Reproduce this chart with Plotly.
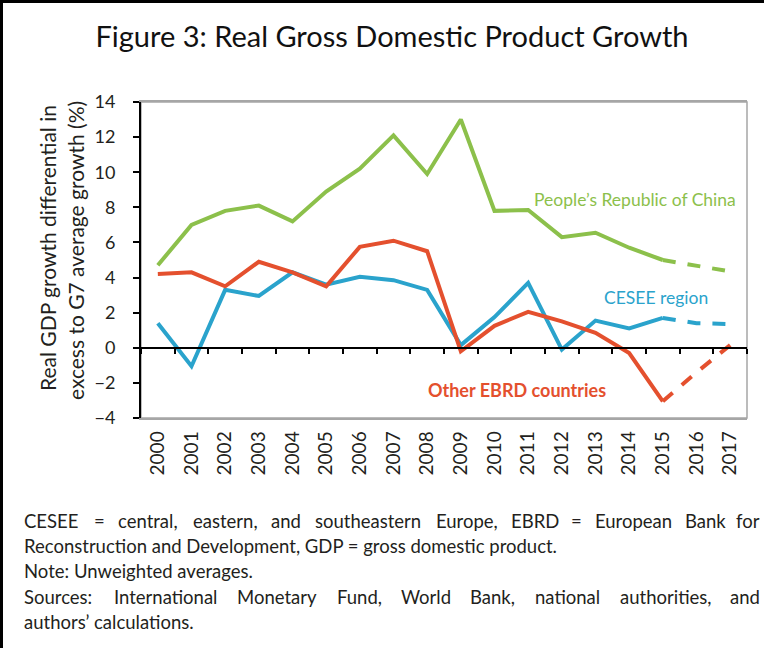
import plotly.graph_objects as go

# ---------------- data ----------------
years = [str(y) for y in range(2000, 2018)]
china = [4.7, 7.0, 7.8, 8.1, 7.2, 8.9, 10.2, 12.1, 9.9, 13.0, 7.8, 7.85, 6.3, 6.55, 5.7, 5.0, 4.65, 4.35]
cesee = [1.4, -1.05, 3.3, 2.95, 4.3, 3.6, 4.05, 3.85, 3.3, 0.15, 1.75, 3.7, -0.1, 1.55, 1.1, 1.7, 1.4, 1.35]
other = [4.2, 4.3, 3.5, 4.9, 4.3, 3.5, 5.75, 6.1, 5.5, -0.2, 1.25, 2.05, 1.5, 0.85, -0.3, -3.05, -1.4, 0.15]
series_names = ["People\u2019s Republic of China", "CESEE region", "Other EBRD countries"]
y_ticks = list(range(-4, 15, 2))
n_actual = 16  # 2000-2015 actual, 2015-2017 projected (dashed)

title_text = "Figure 3: Real Gross Domestic Product Growth"
ytitle_lines = ["Real GDP growth differential in", "excess to G7 average growth (%)"]
# (text, justified?)
notes = [
    ("CESEE = central, eastern, and southeastern Europe, EBRD = European Bank for", True),
    ("Reconstruction and Development, GDP = gross domestic product.", False),
    ("Note: Unweighted averages.", False),
    ("Sources: International Monetary Fund, World Bank, national authorities, and", True),
    ("authors\u2019 calculations.", False),
]

# ---------------- style ----------------
W, H = 764, 648
L, R, T, B = 141, 17, 102, 230
PW, PH = W - L - R, H - T - B
FONT = "Lato"
TXT = "#231f20"
GREEN, BLUE, RED = "#8cc04b", "#2aa3cc", "#e4502e"
GRAY = "#a6a6a6"
NOTE_SIZE = 18.5
NOTE_L, NOTE_R = 22, 762
REF_LINE_PX = 532  # rendered width of the 2nd note line, used to calibrate the estimate


def px(x):
    return (x - L) / PW


def py(y):
    return (H - B - y) / PH


def est_width(s):
    w = 0.0
    for ch in s:
        if ch in "ilj'\u2019.,:;|":
            w += 0.24
        elif ch in "frt":
            w += 0.34
        elif ch == "I":
            w += 0.28
        elif ch in "mw":
            w += 0.78
        elif ch in "MW":
            w += 0.88
        elif ch.isupper():
            w += 0.64
        elif ch == " ":
            w += 0.19
        elif ch in "()":
            w += 0.3
        else:
            w += 0.53
    return w


CAL = REF_LINE_PX / est_width(notes[1][0])

fig = go.Figure()

for vals, color in [(china, GREEN), (cesee, BLUE), (other, RED)]:
    fig.add_trace(go.Scatter(x=years[:n_actual], y=vals[:n_actual], mode="lines",
                             line=dict(color=color, width=4), hoverinfo="skip"))
    fig.add_trace(go.Scatter(x=years[n_actual - 1:], y=vals[n_actual - 1:], mode="lines",
                             line=dict(color=color, width=4, dash="13px,12px"), hoverinfo="skip"))

# invisible trace to carry the zero-line tick axis
fig.add_trace(go.Scatter(x=years, y=cesee, xaxis="x2", mode="lines",
                         line=dict(width=0), opacity=0, hoverinfo="skip"))

ymin, ymax = y_ticks[0], y_ticks[-1]
zero_pos = (0 - ymin) / (ymax - ymin)

fig.update_layout(
    width=W, height=H,
    margin=dict(l=L, r=R, t=T, b=B, autoexpand=False),
    paper_bgcolor="white", plot_bgcolor="white",
    showlegend=False,
    font=dict(family=FONT, color=TXT),
    title=dict(text=title_text, font=dict(size=29, family=FONT, color="#111"),
               x=392 / W, xref="container", xanchor="center",
               y=1 - 37 / H, yref="container", yanchor="middle"),
    xaxis=dict(type="category", categoryorder="array", categoryarray=years,
               range=[-0.5, len(years) - 0.5], showgrid=False, zeroline=False,
               showline=True, linecolor=GRAY, linewidth=1.5, mirror=True,
               ticks="", tickangle=-90, tickfont=dict(size=19, color=TXT),
               ticklabelstandoff=4),
    xaxis2=dict(type="category", categoryorder="array", categoryarray=years,
                range=[-0.5, len(years) - 0.5], overlaying="x", anchor="free",
                position=zero_pos, side="bottom", showgrid=False, zeroline=False,
                showline=True, linecolor="black", linewidth=2,
                ticks="outside", ticklen=5, tickwidth=1.5, tickcolor="black",
                tickson="boundaries", showticklabels=False),
    yaxis=dict(range=[ymin, ymax], tickvals=y_ticks, showgrid=False, zeroline=False,
               showline=True, linecolor="black", linewidth=2,
               ticks="outside", ticklen=6, tickwidth=1.5, tickcolor="black",
               tickfont=dict(size=18, color=TXT), ticklabelstandoff=14),
)

shapes = [
    dict(type="rect", xref="paper", yref="paper", x0=0, x1=1, y0=0, y1=1,
         line=dict(color=GRAY, width=1.5), layer="below"),
    dict(type="line", xref="paper", yref="paper", x0=px(0), x1=px(W), y0=py(1.5), y1=py(1.5),
         line=dict(color="black", width=3)),
    dict(type="line", xref="paper", yref="paper", x0=px(1.5), x1=px(1.5), y0=py(0), y1=py(H),
         line=dict(color="black", width=3)),
]
fig.update_layout(shapes=shapes)

ann = []
# series labels
ann.append(dict(x=17.23, y=8.43, xref="x", yref="y", text=series_names[0], showarrow=False,
                xanchor="right", yanchor="middle", font=dict(size=17.5, color=GREEN)))
ann.append(dict(x=16.4, y=2.85, xref="x", yref="y", text=series_names[1], showarrow=False,
                xanchor="right", yanchor="middle", font=dict(size=17.5, color=BLUE)))
ann.append(dict(x=7.96, y=-2.39, xref="x", yref="y", text=series_names[2], showarrow=False,
                xanchor="left", yanchor="middle", font=dict(size=18, color=RED, weight="bold")))
# y-axis title (two rotated lines)
for txt, xc, yc in [(ytitle_lines[0], 47, 248), (ytitle_lines[1], 75, 251)]:
    ann.append(dict(x=px(xc), y=py(yc), xref="paper", yref="paper", text=txt, showarrow=False,
                    textangle=-90, xanchor="center", yanchor="middle",
                    font=dict(size=21, color=TXT)))


def note_ann(text, x, y, anchor):
    return dict(x=px(x), y=py(y), xref="paper", yref="paper", text=text, showarrow=False,
                xanchor=anchor, yanchor="middle", font=dict(size=NOTE_SIZE, color=TXT))


# notes (justified lines are laid out word by word)
line_y = [521, 546, 571, 597, 622]
for (text, justify), yy in zip(notes, line_y):
    if not justify:
        ann.append(note_ann(text, NOTE_L, yy, "left"))
        continue
    words = text.split(" ")
    widths = [est_width(w) * CAL for w in words]
    gap = (NOTE_R - NOTE_L - sum(widths)) / (len(words) - 1)
    xpos = NOTE_L
    for i, (w, wd) in enumerate(zip(words, widths)):
        if i == 0:
            ann.append(note_ann(w, NOTE_L, yy, "left"))
        elif i == len(words) - 1:
            ann.append(note_ann(w, NOTE_R, yy, "right"))
        else:
            ann.append(note_ann(w, xpos + wd / 2, yy, "center"))
        xpos += wd + gap
fig.update_layout(annotations=ann)

fig.write_html("out.html", config={"displayModeBar": False},
               post_script="document.body.style.margin='0';")
